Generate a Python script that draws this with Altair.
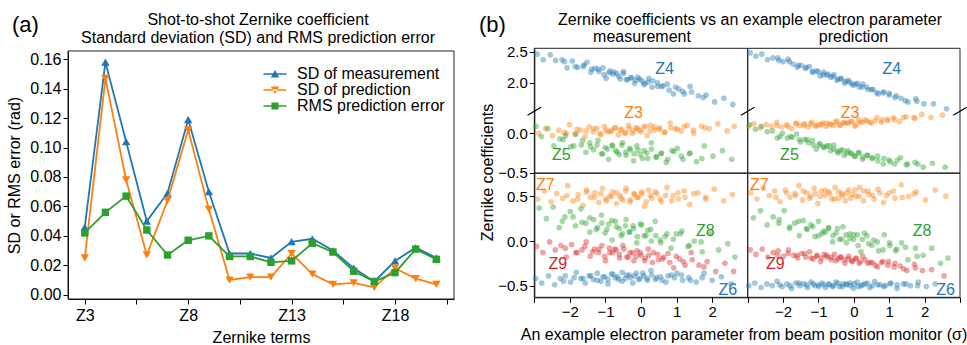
import altair as alt
import pandas as pd

FONT = "Liberation Sans"
BLUE, ORANGE, GREEN, RED = "#1f77b4", "#ff7f0e", "#2ca02c", "#d62728"
FRAME = "#222222"
W, H = 967, 345

# ---------------- panel (a) data ----------------
terms = [3, 4, 5, 6, 7, 8, 9, 10, 11, 12, 13, 14, 15, 16, 17, 18, 19, 20]
sd_meas = [0.046, 0.158, 0.104, 0.050, 0.069, 0.119, 0.070, 0.028, 0.028, 0.025,
           0.036, 0.038, 0.030, 0.018, 0.009, 0.023, 0.032, 0.025]
sd_pred = [0.025, 0.147, 0.078, 0.027, 0.064, 0.112, 0.058, 0.010, 0.012, 0.012,
           0.028, 0.014, 0.007, 0.008, 0.005, 0.018, 0.011, 0.007]
rms_err = [0.042, 0.056, 0.067, 0.044, 0.027, 0.037, 0.040, 0.026, 0.026, 0.022,
           0.023, 0.035, 0.029, 0.016, 0.009, 0.015, 0.031, 0.024]
series_names = ["SD of measurement", "SD of prediction", "RMS prediction error"]
a_x_ticks = [3, 5.5, 8, 10.5, 13, 15.5, 18, 20.5]
a_y_ticks = [0.0, 0.02, 0.04, 0.06, 0.08, 0.10, 0.12, 0.14, 0.16]

# ---------------- panel (b) data: top row (measurement / prediction) ----------------
meas_z4_x = [-2.92, -2.75, -2.55, -2.4, -2.22, -2.08, -1.93, -1.78, -1.62, -1.52, -1.41, -1.29, -1.18, -1.07, -0.98, -0.87, -0.79, -0.68, -0.58, -0.49,
             -0.41, -0.29, -0.18, -0.09, 0.02, 0.11, 0.22, 0.31, 0.46, 0.58, 0.74, 0.91, 1.06, 1.22, 1.38, 1.61, 1.83, 2.07, 2.33, 2.58,
             -2.15, -1.85, -1.6, -1.38, -1.2, -1.04, -0.9, -0.76, -0.63, -0.5, -0.38, -0.26, -0.15, -0.04, 0.08, 0.2, 0.33, 0.47, 0.62, 0.79, 0.97, 1.17, 1.42, 1.75]
meas_z4_y = [2.46, 2.37, 2.45, 2.36, 2.37, 2.24, 2.35, 2.25, 2.26, 2.33, 2.17, 2.23, 2.18, 2.24, 2.07, 2.19, 2.14, 2.15, 2.06, 2.18,
             2.05, 2.08, 1.99, 2.09, 2.03, 1.99, 2.07, 1.93, 2.00, 1.94, 1.98, 1.82, 1.90, 1.82, 1.94, 1.79, 1.80, 1.69, 1.75, 1.65,
             2.34, 2.26, 2.29, 2.22, 2.22, 2.13, 2.16, 2.17, 2.10, 2.15, 2.05, 2.08, 2.04, 2.06, 1.97, 2.01, 2.03, 1.94, 1.95, 1.88, 1.93, 1.86, 1.85, 1.76]
meas_z3_x = [-2.88, -2.68, -2.49, -2.31, -2.16, -2.01, -1.86, -1.71, -1.57, -1.46, -1.35, -1.24, -1.13, -1.03, -0.93, -0.83, -0.74, -0.63, -0.54, -0.44,
             -0.35, -0.24, -0.14, -0.04, 0.07, 0.17, 0.27, 0.38, 0.52, 0.66, 0.82, 0.97, 1.13, 1.3, 1.48, 1.7, 1.92, 2.16, 2.42, 2.62,
             -2.1, -1.8, -1.55, -1.33, -1.15, -0.99, -0.85, -0.71, -0.58, -0.45, -0.33, -0.21, -0.1, 0.01, 0.13, 0.25, 0.38, 0.52, 0.67, 0.84, 1.02, 1.22, 1.47, 1.8]
meas_z3_y = [0.00, 0.06, -0.03, 0.04, 0.01, 0.11, -0.01, 0.04, -0.04, 0.08, 0.02, 0.06, -0.02, 0.09, 0.02, 0.04, 0.07, -0.02, 0.05, 0.01,
             0.10, 0.00, 0.07, 0.04, 0.08, -0.03, 0.10, 0.04, 0.07, 0.01, 0.13, 0.06, 0.03, 0.10, 0.00, 0.09, 0.06, 0.12, 0.03, 0.09,
             0.00, 0.05, 0.03, 0.06, 0.00, 0.04, 0.02, 0.07, 0.04, 0.00, 0.06, 0.03, 0.06, 0.02, 0.09, 0.03, 0.08, 0.05, 0.02, 0.07, 0.05, 0.09, 0.04, 0.07]
meas_z5_x = [-2.95, -2.8, -2.62, -2.45, -2.28, -2.12, -1.97, -1.83, -1.68, -1.55, -1.44, -1.33, -1.21, -1.11, -1.01, -0.91, -0.81, -0.71, -0.61, -0.52,
             -0.43, -0.32, -0.21, -0.12, -0.02, 0.09, 0.19, 0.29, 0.43, 0.56, 0.71, 0.87, 1.02, 1.18, 1.36, 1.56, 1.78, 2.02, 2.29, 2.55,
             -2.19, -1.89, -1.64, -1.42, -1.24, -1.08, -0.94, -0.8, -0.67, -0.54, -0.42, -0.3, -0.19, -0.08, 0.04, 0.16, 0.29, 0.43, 0.58, 0.75, 0.93, 1.13, 1.38, 1.71]
meas_z5_y = [0.09, -0.04, 0.06, -0.16, -0.07, -0.03, -0.17, -0.01, -0.15, -0.24, -0.12, -0.21, -0.09, -0.26, -0.18, -0.33, -0.15, -0.22, -0.27, -0.12,
             -0.24, -0.19, -0.35, -0.16, -0.27, -0.22, -0.32, -0.12, -0.30, -0.26, -0.37, -0.22, -0.19, -0.33, -0.26, -0.36, -0.16, -0.29, -0.22, -0.33,
             -0.08, -0.16, -0.09, -0.17, -0.15, -0.26, -0.20, -0.16, -0.24, -0.15, -0.28, -0.21, -0.26, -0.21, -0.32, -0.25, -0.20, -0.30, -0.25, -0.33, -0.23, -0.29, -0.25, -0.32]
pred_z4_x = [-2.93, -2.77, -2.6, -2.44, -2.29, -2.15, -2.0, -1.86, -1.72, -1.6, -1.49, -1.37, -1.26, -1.16, -1.05, -0.95, -0.85, -0.76, -0.65, -0.56,
             -0.46, -0.37, -0.26, -0.16, -0.06, 0.05, 0.15, 0.26, 0.4, 0.54, 0.69, 0.85, 1.0, 1.16, 1.33, 1.53, 1.75, 1.98, 2.25, 2.62,
             -2.12, -1.82, -1.57, -1.35, -1.17, -1.01, -0.87, -0.73, -0.6, -0.47, -0.35, -0.23, -0.12, -0.01, 0.11, 0.23, 0.36, 0.5, 0.65, 0.82, 1.0, 1.2, 1.45, 1.78]
pred_z4_y = [2.48, 2.43, 2.46, 2.37, 2.40, 2.40, 2.34, 2.38, 2.30, 2.25, 2.28, 2.23, 2.26, 2.17, 2.19, 2.11, 2.17, 2.12, 2.09, 2.13,
             2.06, 2.07, 1.99, 2.04, 1.98, 1.98, 1.93, 1.98, 1.89, 1.89, 1.82, 1.85, 1.83, 1.76, 1.75, 1.69, 1.74, 1.66, 1.66, 1.58,
             2.36, 2.34, 2.28, 2.25, 2.18, 2.18, 2.13, 2.14, 2.10, 2.04, 2.06, 2.02, 2.01, 1.96, 1.99, 1.93, 1.93, 1.89, 1.84, 1.84, 1.80, 1.79, 1.71, 1.70]
pred_z3_x = [-2.97, -2.82, -2.64, -2.47, -2.33, -2.18, -2.04, -1.9, -1.76, -1.64, -1.52, -1.4, -1.29, -1.19, -1.08, -0.97, -0.88, -0.78, -0.68, -0.58,
             -0.48, -0.39, -0.28, -0.18, -0.08, 0.03, 0.13, 0.24, 0.37, 0.5, 0.65, 0.8, 0.96, 1.12, 1.29, 1.48, 1.69, 1.92, 2.18, 2.5,
             -2.17, -1.87, -1.62, -1.4, -1.22, -1.06, -0.92, -0.78, -0.65, -0.52, -0.4, -0.28, -0.17, -0.06, 0.06, 0.18, 0.31, 0.45, 0.6, 0.77, 0.95, 1.15, 1.4, 1.73]
pred_z3_y = [0.09, 0.12, 0.07, 0.11, 0.09, 0.14, 0.08, 0.11, 0.06, 0.13, 0.10, 0.12, 0.08, 0.14, 0.10, 0.11, 0.13, 0.09, 0.12, 0.10,
             0.16, 0.10, 0.14, 0.13, 0.15, 0.09, 0.17, 0.14, 0.16, 0.13, 0.20, 0.17, 0.16, 0.20, 0.15, 0.21, 0.20, 0.24, 0.20, 0.23,
             0.10, 0.09, 0.12, 0.10, 0.12, 0.09, 0.11, 0.13, 0.11, 0.14, 0.11, 0.13, 0.13, 0.15, 0.11, 0.14, 0.17, 0.14, 0.16, 0.14, 0.18, 0.17, 0.20, 0.19]
pred_z5_x = [-2.95, -2.78, -2.61, -2.45, -2.3, -2.16, -2.02, -1.88, -1.74, -1.62, -1.51, -1.39, -1.28, -1.17, -1.06, -0.96, -0.86, -0.76, -0.66, -0.57,
             -0.47, -0.38, -0.27, -0.17, -0.07, 0.04, 0.14, 0.25, 0.38, 0.52, 0.67, 0.83, 0.99, 1.15, 1.32, 1.52, 1.73, 1.96, 2.22, 2.58,
             -2.09, -1.79, -1.54, -1.32, -1.14, -0.98, -0.84, -0.7, -0.57, -0.44, -0.32, -0.2, -0.09, 0.02, 0.14, 0.26, 0.39, 0.53, 0.68, 0.85, 1.03, 1.23, 1.48, 1.81]
pred_z5_y = [0.11, 0.05, 0.09, 0.02, 0.03, -0.06, 0.00, -0.06, -0.05, -0.01, -0.11, -0.08, -0.12, -0.09, -0.20, -0.13, -0.17, -0.16, -0.22, -0.15,
             -0.23, -0.22, -0.28, -0.22, -0.26, -0.29, -0.24, -0.33, -0.28, -0.32, -0.29, -0.39, -0.34, -0.39, -0.31, -0.39, -0.37, -0.43, -0.38, -0.43,
             -0.04, -0.04, -0.08, -0.08, -0.15, -0.15, -0.18, -0.16, -0.20, -0.25, -0.21, -0.25, -0.25, -0.29, -0.25, -0.30, -0.28, -0.31, -0.35, -0.32, -0.36, -0.34, -0.40, -0.39]

# ---------------- panel (b) data: bottom row ----------------
meas_z7_x = [-2.9, -2.72, -2.53, -2.37, -2.2, -2.06, -1.91, -1.77, -1.63, -1.53, -1.42, -1.3, -1.19, -1.08, -0.99, -0.88, -0.8, -0.69, -0.59, -0.5,
             -0.42, -0.3, -0.19, -0.1, 0.01, 0.1, 0.21, 0.3, 0.45, 0.57, 0.73, 0.9, 1.05, 1.21, 1.37, 1.6, 1.82, 2.06, 2.32, 2.57,
             -2.08, -1.78, -1.53, -1.31, -1.13, -0.97, -0.83, -0.69, -0.56, -0.43, -0.31, -0.19, -0.08, 0.03, 0.15, 0.27, 0.4, 0.54, 0.69, 0.86, 1.04, 1.24, 1.49, 1.82]
meas_z7_y = [0.47, 0.56, 0.44, 0.53, 0.48, 0.62, 0.45, 0.52, 0.40, 0.57, 0.49, 0.54, 0.43, 0.59, 0.47, 0.50, 0.55, 0.42, 0.51, 0.46,
             0.59, 0.44, 0.53, 0.49, 0.55, 0.39, 0.57, 0.48, 0.53, 0.44, 0.60, 0.51, 0.47, 0.56, 0.41, 0.54, 0.49, 0.58, 0.45, 0.52,
             0.51, 0.47, 0.55, 0.49, 0.53, 0.45, 0.50, 0.54, 0.48, 0.56, 0.46, 0.52, 0.49, 0.53, 0.44, 0.51, 0.55, 0.47, 0.51, 0.45, 0.54, 0.49, 0.53, 0.47]
meas_z8_x = [-2.86, -2.66, -2.47, -2.3, -2.14, -1.99, -1.84, -1.69, -1.55, -1.44, -1.33, -1.22, -1.11, -1.01, -0.91, -0.81, -0.72, -0.61, -0.52, -0.42,
             -0.33, -0.22, -0.12, -0.02, 0.09, 0.19, 0.29, 0.4, 0.54, 0.68, 0.84, 0.99, 1.15, 1.32, 1.5, 1.72, 1.94, 2.18, 2.44, 2.64,
             -2.21, -1.91, -1.66, -1.44, -1.26, -1.1, -0.96, -0.82, -0.69, -0.56, -0.44, -0.32, -0.21, -0.1, 0.02, 0.14, 0.27, 0.41, 0.56, 0.73, 0.91, 1.11, 1.36, 1.69]
meas_z8_y = [0.37, 0.25, 0.38, 0.15, 0.27, 0.33, 0.17, 0.36, 0.20, 0.10, 0.24, 0.15, 0.29, 0.09, 0.19, 0.01, 0.22, 0.14, 0.08, 0.24,
             0.10, 0.17, -0.02, 0.19, 0.06, 0.12, 0.00, 0.22, 0.01, 0.05, -0.08, 0.08, 0.11, -0.06, 0.00, -0.12, 0.08, -0.10, -0.03, -0.18,
             0.22, 0.27, 0.21, 0.26, 0.13, 0.20, 0.13, 0.23, 0.16, 0.06, 0.17, 0.10, 0.14, 0.05, 0.18, 0.06, 0.13, 0.06, -0.02, 0.08, 0.02, 0.08, -0.05, -0.01]
meas_z9_x = [-2.94, -2.76, -2.57, -2.41, -2.25, -2.1, -1.95, -1.8, -1.66, -1.54, -1.43, -1.31, -1.2, -1.1, -1.0, -0.89, -0.8, -0.7, -0.6, -0.51,
             -0.4, -0.31, -0.2, -0.11, 0.0, 0.12, 0.2, 0.32, 0.47, 0.6, 0.76, 0.92, 1.08, 1.24, 1.41, 1.63, 1.86, 2.1, 2.36, 2.6,
             -2.13, -1.83, -1.58, -1.36, -1.18, -1.02, -0.88, -0.74, -0.61, -0.48, -0.36, -0.24, -0.13, -0.02, 0.1, 0.22, 0.35, 0.49, 0.64, 0.81, 0.99, 1.19, 1.44, 1.77]
meas_z9_y = [-0.06, -0.13, -0.01, -0.10, -0.05, -0.18, -0.04, -0.13, -0.10, -0.01, -0.17, -0.09, -0.13, -0.05, -0.22, -0.08, -0.13, -0.10, -0.19, -0.05,
             -0.18, -0.13, -0.22, -0.11, -0.16, -0.19, -0.09, -0.24, -0.15, -0.20, -0.14, -0.30, -0.20, -0.27, -0.13, -0.27, -0.23, -0.34, -0.25, -0.34,
             -0.08, -0.13, -0.06, -0.12, -0.09, -0.17, -0.13, -0.09, -0.15, -0.09, -0.18, -0.13, -0.17, -0.13, -0.22, -0.16, -0.13, -0.21, -0.18, -0.24, -0.17, -0.23, -0.21, -0.29]
meas_z6_x = [-2.96, -2.79, -2.6, -2.43, -2.27, -2.13, -1.98, -1.82, -1.69, -1.57, -1.46, -1.34, -1.23, -1.13, -1.02, -0.93, -0.83, -0.73, -0.63, -0.53,
             -0.44, -0.33, -0.23, -0.13, -0.03, 0.08, 0.18, 0.28, 0.41, 0.55, 0.7, 0.86, 1.01, 1.17, 1.34, 1.55, 1.77, 2.0, 2.26, 2.53,
             -2.18, -1.88, -1.63, -1.41, -1.23, -1.07, -0.93, -0.79, -0.66, -0.53, -0.41, -0.29, -0.18, -0.07, 0.05, 0.17, 0.3, 0.44, 0.59, 0.76, 0.94, 1.14, 1.39, 1.72]
meas_z6_y = [-0.42, -0.47, -0.39, -0.49, -0.42, -0.39, -0.46, -0.35, -0.42, -0.47, -0.39, -0.43, -0.36, -0.45, -0.40, -0.48, -0.37, -0.41, -0.43, -0.35,
             -0.42, -0.38, -0.47, -0.36, -0.42, -0.39, -0.44, -0.33, -0.43, -0.40, -0.46, -0.38, -0.36, -0.44, -0.41, -0.46, -0.36, -0.44, -0.40, -0.48,
             -0.45, -0.41, -0.42, -0.39, -0.44, -0.40, -0.43, -0.37, -0.40, -0.45, -0.38, -0.41, -0.39, -0.43, -0.36, -0.42, -0.38, -0.41, -0.44, -0.39, -0.41, -0.38, -0.44, -0.41]
pred_z7_x = [-2.91, -2.74, -2.56, -2.39, -2.24, -2.09, -1.94, -1.8, -1.66, -1.55, -1.45, -1.33, -1.22, -1.12, -1.02, -0.92, -0.82, -0.72, -0.62, -0.53,
             -0.43, -0.34, -0.24, -0.14, -0.04, 0.06, 0.16, 0.27, 0.4, 0.53, 0.68, 0.84, 1.0, 1.16, 1.34, 1.55, 1.77, 2.02, 2.3, 2.6,
             -2.2, -1.9, -1.65, -1.43, -1.25, -1.09, -0.95, -0.81, -0.68, -0.55, -0.43, -0.31, -0.2, -0.09, 0.03, 0.15, 0.28, 0.42, 0.57, 0.74, 0.92, 1.12, 1.37, 1.7]
pred_z7_y = [0.54, 0.47, 0.59, 0.51, 0.56, 0.44, 0.57, 0.49, 0.53, 0.62, 0.46, 0.54, 0.50, 0.59, 0.42, 0.56, 0.51, 0.55, 0.47, 0.60,
             0.48, 0.53, 0.45, 0.57, 0.52, 0.50, 0.60, 0.45, 0.56, 0.51, 0.58, 0.43, 0.54, 0.48, 0.63, 0.50, 0.55, 0.46, 0.57, 0.50,
             0.49, 0.54, 0.51, 0.56, 0.48, 0.53, 0.50, 0.57, 0.53, 0.47, 0.55, 0.51, 0.54, 0.48, 0.57, 0.50, 0.56, 0.52, 0.47, 0.54, 0.51, 0.56, 0.49, 0.53]
pred_z8_x = [-2.84, -2.64, -2.45, -2.28, -2.12, -1.97, -1.82, -1.67, -1.54, -1.43, -1.32, -1.21, -1.1, -1.0, -0.9, -0.8, -0.71, -0.6, -0.5, -0.41,
             -0.31, -0.21, -0.11, -0.01, 0.1, 0.2, 0.3, 0.42, 0.56, 0.7, 0.86, 1.02, 1.18, 1.35, 1.53, 1.74, 1.96, 2.2, 2.45, 2.66,
             -2.11, -1.81, -1.56, -1.34, -1.16, -1.0, -0.86, -0.72, -0.59, -0.46, -0.34, -0.22, -0.11, 0.0, 0.12, 0.24, 0.37, 0.51, 0.66, 0.83, 1.01, 1.21, 1.46, 1.79]
pred_z8_y = [0.26, 0.34, 0.18, 0.27, 0.20, 0.34, 0.14, 0.20, 0.06, 0.23, 0.13, 0.18, 0.05, 0.22, 0.08, 0.10, 0.15, -0.01, 0.09, 0.02,
             0.16, -0.02, 0.08, 0.02, 0.07, -0.12, 0.09, -0.03, 0.01, -0.11, 0.07, -0.05, -0.11, -0.02, -0.21, -0.08, -0.16, -0.08, -0.25, -0.19,
             0.24, 0.16, 0.22, 0.14, 0.16, 0.06, 0.11, 0.14, 0.06, 0.14, 0.02, 0.07, 0.03, 0.07, -0.05, 0.02, 0.06, -0.05, -0.01, -0.10, -0.02, -0.09, -0.07, -0.17]
pred_z9_x = [-2.93, -2.77, -2.59, -2.43, -2.28, -2.14, -1.99, -1.85, -1.71, -1.59, -1.48, -1.36, -1.25, -1.15, -1.04, -0.94, -0.84, -0.75, -0.64, -0.55,
             -0.45, -0.36, -0.25, -0.15, -0.05, 0.05, 0.15, 0.25, 0.39, 0.52, 0.67, 0.82, 0.98, 1.14, 1.31, 1.5, 1.71, 1.94, 2.2, 2.55,
             -2.16, -1.86, -1.61, -1.39, -1.21, -1.05, -0.91, -0.77, -0.64, -0.51, -0.39, -0.27, -0.16, -0.05, 0.07, 0.19, 0.32, 0.46, 0.61, 0.78, 0.96, 1.16, 1.41, 1.74]
pred_z9_y = [-0.10, -0.15, -0.09, -0.18, -0.13, -0.11, -0.17, -0.10, -0.16, -0.19, -0.14, -0.18, -0.12, -0.20, -0.16, -0.23, -0.15, -0.18, -0.21, -0.15,
             -0.20, -0.18, -0.25, -0.17, -0.22, -0.20, -0.25, -0.17, -0.25, -0.24, -0.29, -0.23, -0.23, -0.29, -0.28, -0.33, -0.26, -0.33, -0.32, -0.39,
             -0.16, -0.14, -0.16, -0.14, -0.19, -0.17, -0.19, -0.16, -0.18, -0.22, -0.18, -0.21, -0.20, -0.23, -0.19, -0.23, -0.21, -0.24, -0.27, -0.24, -0.27, -0.25, -0.31, -0.30]
pred_z6_x = [-2.97, -2.8, -2.62, -2.46, -2.31, -2.17, -2.03, -1.89, -1.76, -1.64, -1.53, -1.42, -1.31, -1.21, -1.1, -1.0, -0.9, -0.8, -0.7, -0.6,
             -0.51, -0.41, -0.31, -0.21, -0.11, -0.01, 0.09, 0.2, 0.32, 0.45, 0.59, 0.74, 0.89, 1.05, 1.22, 1.4, 1.6, 1.82, 2.05, 2.3,
             -2.1, -1.8, -1.55, -1.33, -1.15, -0.99, -0.85, -0.71, -0.58, -0.45, -0.33, -0.21, -0.1, 0.01, 0.13, 0.25, 0.38, 0.52, 0.67, 0.84, 1.02, 1.22, 1.47, 1.8]
pred_z6_y = [-0.50, -0.47, -0.52, -0.48, -0.50, -0.45, -0.51, -0.48, -0.53, -0.47, -0.50, -0.48, -0.52, -0.46, -0.50, -0.49, -0.47, -0.52, -0.49, -0.51,
             -0.46, -0.51, -0.48, -0.49, -0.47, -0.53, -0.46, -0.50, -0.48, -0.52, -0.45, -0.49, -0.50, -0.47, -0.53, -0.48, -0.50, -0.46, -0.51, -0.48,
             -0.49, -0.50, -0.47, -0.49, -0.48, -0.51, -0.49, -0.48, -0.50, -0.47, -0.51, -0.48, -0.50, -0.48, -0.51, -0.49, -0.47, -0.50, -0.49, -0.51, -0.48, -0.49, -0.48, -0.50]

zernike_terms = ["Z3", "Z4", "Z5", "Z6", "Z7", "Z8", "Z9"]
zernike_colors = [ORANGE, BLUE, GREEN, BLUE, ORANGE, GREEN, RED]
b_x_ticks = [-3, -2, -1, 0, 1, 2, 3]
b_top_y_ticks = [-0.5, 0.0, 2.0, 2.5]
b_bot_y_ticks = [-0.5, 0.0, 0.5]

# annotation label anchors (data units of each panel)
mt_lab = pd.DataFrame({"label": ["Z4", "Z3", "Z5"], "x": [0.66, -0.21, -2.24], "y": [2.22, 0.258, -0.276]})
pt_lab = pd.DataFrame({"label": ["Z4", "Z3", "Z5"], "x": [1.07, -0.11, -1.82], "y": [2.22, 0.258, -0.276]})
mb_lab = pd.DataFrame({"label": ["Z7", "Z8", "Z9", "Z6"], "x": [-2.69, 1.81, -2.34, 2.44], "y": [0.627, 0.112, -0.26, -0.55]})
pb_lab = pd.DataFrame({"label": ["Z7", "Z8", "Z9", "Z6"], "x": [-2.67, 1.93, -2.22, 2.59], "y": [0.627, 0.112, -0.26, -0.55]})

# ---------------- geometry (pixels) ----------------
A_XR = [68, 454]
A_YR = [299, 51]
A_XDOM = [2.19, 20.85]
A_YDOM = [-0.0029, 0.1656]
MX = [534.3, 747.7]
PX = [747.7, 960.0]
TOP_YR = [173.0, 111.3, 111.3, 48.3]
TOP_YDOM = [-0.504, 0.2795, 1.539, 2.555]
BOT_YR = [297.3, 173.3]
BOT_YDOM = [-0.630, 0.758]

AXC = dict(labelFont=FONT, titleFont=FONT, labelColor="black", titleColor="black",
           domainColor="black", tickColor="black", grid=False, titleFontWeight="normal",
           labelOverlap=False, labelFlush=False, domainWidth=1, tickWidth=1)

# ---------------- panel (a) ----------------
rows = []
for name, vals in zip(series_names, [sd_meas, sd_pred, rms_err]):
    for t, v in zip(terms, vals):
        rows.append({"term": t, "value": v, "series": name})
df_a = pd.DataFrame(rows)

xa_scale = alt.Scale(domain=A_XDOM, range=A_XR, nice=False, zero=False)
ya_scale = alt.Scale(domain=A_YDOM, range=A_YR, nice=False, zero=False)
xa_axis = alt.Axis(orient="bottom", offset=A_YR[0] - H, values=a_x_ticks,
                   labelExpr="datum.value % 5 == 3 ? 'Z' + datum.value : ''",
                   title="Zernike terms", labelFontSize=16, titleFontSize=16,
                   tickSize=5, labelPadding=3, titlePadding=6, **AXC)
ya_axis = alt.Axis(orient="left", offset=-A_XR[0], values=a_y_ticks, format=".2f",
                   title="SD or RMS error (rad)", labelFontSize=16, titleFontSize=16,
                   tickSize=5, labelPadding=2, titlePadding=7, **AXC)

def ax_x(field):
    return alt.X(field, scale=xa_scale, axis=xa_axis)

def ax_y(field):
    return alt.Y(field, scale=ya_scale, axis=ya_axis)

frame_a = alt.Chart(pd.DataFrame({"x0": [A_XDOM[0]], "x1": [A_XDOM[1]], "y0": [A_YDOM[0]], "y1": [A_YDOM[1]]})).mark_rect(
    fill="transparent", stroke=FRAME, strokeWidth=1).encode(
    x=ax_x("x0:Q"), x2="x1:Q", y=ax_y("y0:Q"), y2="y1:Q")

layers_a = [frame_a]
for name, color, shape, size in [(series_names[0], BLUE, "triangle-up", 70),
                                 (series_names[1], ORANGE, "triangle-down", 70),
                                 (series_names[2], GREEN, "square", 55)]:
    base = alt.Chart(df_a).transform_filter(alt.datum.series == name)
    layers_a.append(base.mark_line(color=color, strokeWidth=1.8).encode(
        x=ax_x("term:Q"), y=ax_y("value:Q")))
    layers_a.append(base.mark_point(shape=shape, filled=True, size=size, color=color, opacity=1).encode(
        x=ax_x("term:Q"), y=ax_y("value:Q")))

legend_paths = [
    "M-2.3,-0.16H2.3V0.16H-2.3Z M0,-0.78L0.85,0.68L-0.85,0.68Z",
    "M-2.3,-0.16H2.3V0.16H-2.3Z M0,0.78L0.85,-0.68L-0.85,-0.68Z",
    "M-2.3,-0.16H2.3V0.16H-2.3Z M-0.7,-0.7H0.7V0.7H-0.7Z",
]
leg = alt.Legend(orient="none", legendX=267, legendY=66, title=None, labelFont=FONT,
                 labelFontSize=16, labelColor="black", symbolSize=100, symbolOpacity=1,
                 symbolStrokeWidth=0, rowPadding=0, labelOffset=14, padding=0,
                 symbolOffset=0, labelLimit=400)
legend_a = alt.Chart(df_a).transform_filter("false").mark_point(filled=True, opacity=1).encode(
    x=ax_x("term:Q"), y=ax_y("value:Q"),
    color=alt.Color("series:N", scale=alt.Scale(domain=series_names, range=[BLUE, ORANGE, GREEN]), legend=leg),
    shape=alt.Shape("series:N", scale=alt.Scale(domain=series_names, range=legend_paths), legend=leg))
group_a = alt.layer(*layers_a, legend_a)

# ---------------- panel (b) ----------------
def cloud(xs, ys, term):
    return pd.DataFrame({"x": xs, "y": ys, "term": term})

cscale = alt.Scale(domain=zernike_terms, range=zernike_colors)

def bx_axis():
    return alt.Axis(orient="bottom", offset=BOT_YR[0] - H, values=b_x_ticks, format="d",
                    labelExpr="abs(datum.value) < 2.5 ? datum.label : ''", title=None,
                    labelFontSize=15, tickSize=5, labelPadding=2, **AXC)

def by_axis(vals):
    return alt.Axis(orient="left", offset=-MX[0], values=vals, format=".1f", title=None,
                    labelFontSize=15, tickSize=5, labelPadding=2, **AXC)

def panel(pts, labs, xr, ydom, yr, x_axis, y_axis, breaks):
    xs = alt.Scale(domain=[-3, 3], range=xr, nice=False, zero=False)
    ys = alt.Scale(domain=ydom, range=yr, nice=False, zero=False)

    def ex(field):
        return alt.X(field, scale=xs, axis=x_axis)

    def ey(field):
        return alt.Y(field, scale=ys, axis=y_axis)

    frame = alt.Chart(pd.DataFrame({"x0": [-3], "x1": [3], "y0": [ydom[0]], "y1": [ydom[-1]]})).mark_rect(
        fill="transparent", stroke=FRAME, strokeWidth=1).encode(
        x=ex("x0:Q"), x2="x1:Q", y=ey("y0:Q"), y2="y1:Q")
    dots = alt.Chart(pts).mark_circle(size=32, opacity=0.42).encode(
        x=ex("x:Q"), y=ey("y:Q"),
        color=alt.Color("term:N", scale=cscale, legend=None))
    text = alt.Chart(labs).mark_text(font=FONT, fontSize=16, baseline="middle").encode(
        x=ex("x:Q"), y=ey("y:Q"), text="label:N",
        color=alt.Color("label:N", scale=cscale, legend=None))
    layers = [frame, dots, text]
    if breaks:
        bdf = pd.DataFrame({"bx0": [b - 0.19 for b in breaks], "bx1": [b + 0.19 for b in breaks],
                            "by0": [0.229] * len(breaks), "by1": [1.605] * len(breaks)})
        layers.append(alt.Chart(bdf).mark_rule(color="black", strokeWidth=1.2).encode(
            x=ex("bx0:Q"), x2="bx1:Q", y=ey("by0:Q"), y2="by1:Q"))
    return alt.layer(*layers)

mt_pts = pd.concat([cloud(meas_z3_x, meas_z3_y, "Z3"), cloud(meas_z4_x, meas_z4_y, "Z4"), cloud(meas_z5_x, meas_z5_y, "Z5")])
pt_pts = pd.concat([cloud(pred_z3_x, pred_z3_y, "Z3"), cloud(pred_z4_x, pred_z4_y, "Z4"), cloud(pred_z5_x, pred_z5_y, "Z5")])
mb_pts = pd.concat([cloud(meas_z6_x, meas_z6_y, "Z6"), cloud(meas_z7_x, meas_z7_y, "Z7"),
                    cloud(meas_z8_x, meas_z8_y, "Z8"), cloud(meas_z9_x, meas_z9_y, "Z9")])
pb_pts = pd.concat([cloud(pred_z6_x, pred_z6_y, "Z6"), cloud(pred_z7_x, pred_z7_y, "Z7"),
                    cloud(pred_z8_x, pred_z8_y, "Z8"), cloud(pred_z9_x, pred_z9_y, "Z9")])

g_mt = panel(mt_pts, mt_lab, MX, TOP_YDOM, TOP_YR, None, by_axis(b_top_y_ticks), [-3, 3])
g_pt = panel(pt_pts, pt_lab, PX, TOP_YDOM, TOP_YR, None, None, [3])
g_mb = panel(mb_pts, mb_lab, MX, BOT_YDOM, BOT_YR, bx_axis(), by_axis(b_bot_y_ticks), None)
g_pb = panel(pb_pts, pb_lab, PX, BOT_YDOM, BOT_YR, bx_axis(), None, None)

# ---------------- titles ----------------
dummy = pd.DataFrame({"k": [0]})

def txt(s, x, y, size=16, align="center", angle=0):
    kw = dict(text=s, font=FONT, fontSize=size, align=align, baseline="alphabetic", color="black")
    if angle:
        kw["angle"] = angle
    return alt.Chart(dummy).mark_text(**kw).encode(x=alt.value(x), y=alt.value(y))

texts = [
    txt("(a)", 12, 31.5, size=22, align="left"),
    txt("(b)", 479, 31.5, size=22, align="left"),
    txt("Shot-to-shot Zernike coefficient", 258, 25),
    txt("Standard deviation (SD) and RMS prediction error", 258, 43.3),
    txt("Zernike coefficients vs an example electron parameter", 750, 24.5),
    txt("measurement", 642, 41.7),
    txt("prediction", 853.5, 41.7),
    txt("Zernike coefficients", 493, 172.5, angle=270),
    txt("An example electron parameter from beam position monitor (\u03c3)", 744, 340),
]

chart = alt.layer(group_a, g_mt, g_pt, g_mb, g_pb, *texts).resolve_scale(
    x="independent", y="independent", color="independent", shape="independent"
).properties(
    width=W, height=H, autosize=alt.AutoSizeParams(type="none"), padding=0
).configure_view(strokeWidth=0)

chart.save("out.html", embed_options={"renderer": "svg", "actions": False})
